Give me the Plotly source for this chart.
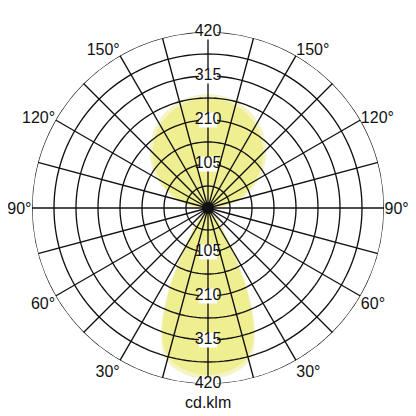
import plotly.graph_objects as go

# ---- data ----
ring_values = [52.5, 105, 157.5, 210, 262.5, 315, 367.5, 420]
label_values = [105, 210, 315, 420]
spoke_angles = list(range(0, 360, 15))
angle_tick_vals = list(range(0, 360, 15))
angle_tick_text = ["", "", "30°", "", "60°", "", "90°", "", "120°", "", "150°", "",
                   "", "", "150°", "", "120°", "", "90°", "", "60°", "", "30°", ""]

# lower lobe (0° = downward), half-curve angle offsets and intensity cd/klm
lower_offsets = [0, 5, 10, 15, 20, 25, 30, 35, 40, 45]
lower_cd = [398, 395, 386, 368, 318, 222, 112, 50, 16, 3]
# upper lobe (180° = upward)
upper_offsets = [0, 10, 20, 30, 40, 50, 60, 70, 80, 90]
upper_cd = [262, 258, 247, 228, 202, 170, 132, 90, 46, 4]
halo_extra = 10

def lobe(center, offsets, vals, extra=0):
    th = [center - o for o in reversed(offsets)] + [center + o for o in offsets[1:]]
    rr = [v + extra for v in reversed(vals)] + [v + extra for v in vals[1:]]
    return th + [th[0]], rr + [rr[0]]

fig = go.Figure()

for center, offs, vals in [(0, lower_offsets, lower_cd), (180, upper_offsets, upper_cd)]:
    th, rr = lobe(center, offs, vals, halo_extra)
    fig.add_trace(go.Scatterpolar(theta=th, r=rr, mode="lines", fill="toself",
                                  fillcolor="#F5F4C6", line=dict(color="rgba(0,0,0,0)", width=0),
                                  line_shape="spline",
                                  hoverinfo="skip", showlegend=False))
    th, rr = lobe(center, offs, vals)
    fig.add_trace(go.Scatterpolar(theta=th, r=rr, mode="lines", fill="toself",
                                  fillcolor="#EFEE90", line=dict(color="rgba(0,0,0,0)", width=0),
                                  line_shape="spline",
                                  hoverinfo="skip", showlegend=False))

# grid: rings and spokes drawn as traces so they sit above the fills
g_th, g_r = [], []
for rv in ring_values:
    g_th += list(range(0, 361, 2)) + [None]
    g_r += [rv] * 181 + [None]
for a in spoke_angles:
    g_th += [a, a, None]
    g_r += [0, 420, None]
fig.add_trace(go.Scatterpolar(theta=g_th, r=g_r, mode="lines",
                              line=dict(color="#111111", width=1.35),
                              hoverinfo="skip", showlegend=False, connectgaps=False))
fig.add_trace(go.Scatterpolar(theta=[0], r=[0], mode="markers",
                              marker=dict(color="#111111", size=12),
                              hoverinfo="skip", showlegend=False))

# radial value labels on both vertical axes with white boxes
lab_th = [180] * len(label_values) + [0] * len(label_values)
lab_r = label_values + label_values
lab_txt = [str(v) for v in label_values] * 2
fig.add_trace(go.Scatterpolar(theta=lab_th, r=lab_r, mode="markers+text",
                              text=lab_txt, textposition="middle center",
                              textfont=dict(family="Liberation Sans, Arial", size=16, color="#111111"),
                              marker=dict(symbol="line-ew", size=13,
                                          line=dict(color="white", width=15)),
                              hoverinfo="skip", showlegend=False, cliponaxis=False))

fig.update_layout(
    width=416, height=416,
    margin=dict(l=24, r=40, t=24, b=40),
    paper_bgcolor="white",
    font=dict(family="Liberation Sans, Arial", size=16, color="#111111"),
    polar=dict(
        bgcolor="white",
        domain=dict(x=[0, 1], y=[0, 1]),
        angularaxis=dict(rotation=-90, direction="counterclockwise",
                         tickmode="array", tickvals=angle_tick_vals, ticktext=angle_tick_text,
                         showgrid=False, showline=False, ticks="",
                         tickfont=dict(size=16, color="#111111")),
        radialaxis=dict(range=[0, 420], showgrid=False, showline=False,
                        showticklabels=False, ticks=""),
    ),
    annotations=[dict(text="cd.klm", x=0.5, y=-0.052, xref="paper", yref="paper",
                      yanchor="middle", showarrow=False, font=dict(size=16, color="#111111"))],
)

fig.write_html("out.html")
